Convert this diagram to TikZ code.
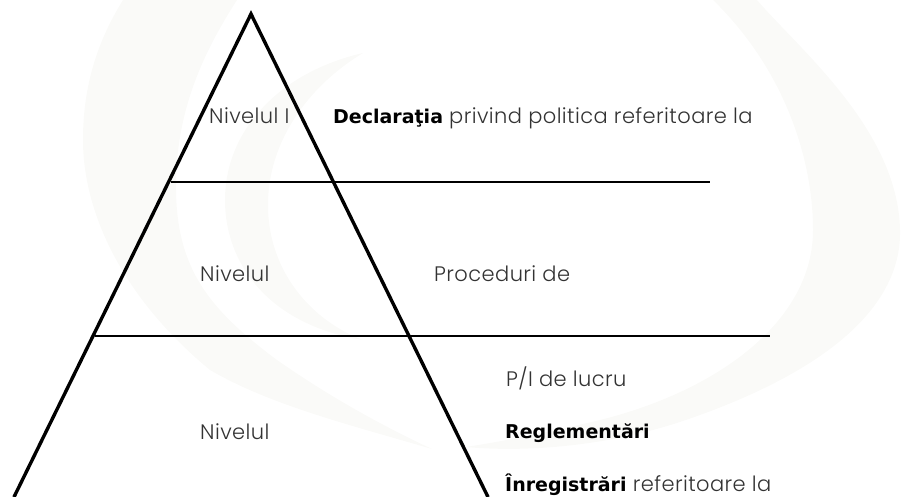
\documentclass[tikz,border=0pt]{standalone}
\usepackage{fontspec}
\setmainfont{Poppins}[UprightFont=* Light,LetterSpace=2]
\newfontfamily\boldf{DejaVu Sans Bold}
\definecolor{wm}{HTML}{FAFAF8}
\definecolor{txt}{HTML}{333333}
\tikzset{
  lab/.style={anchor=base west,inner sep=0pt,font=\fontsize{21}{24}\selectfont,text=txt},
  edgeline/.style={draw=black,line width=3.4pt},
  levelline/.style={draw=black,line width=2pt},
  wmark/.style={fill=wm,draw=none}
}
\newcommand{\bld}[1]{{\boldf\fontsize{19}{22}\selectfont\textcolor{black}{#1}}}
\begin{document}
\begin{tikzpicture}[x=1pt,y=-1pt]
\useasboundingbox (0,0) rectangle (916,497);
% watermark
\fill[wmark] (123,0) .. controls (95,45) and (83,90) .. (83,140)
  .. controls (83,215) and (125,300) .. (210,370)
  .. controls (270,405) and (350,425) .. (432,449)
  .. controls (370,420) and (320,390) .. (277,360)
  .. controls (210,310) and (177,270) .. (176,190)
  .. controls (175,110) and (205,50) .. (237,0) -- cycle;
\fill[wmark] (363,53) .. controls (280,72) and (225,130) .. (225,200)
  .. controls (225,265) and (270,325) .. (363,340)
  .. controls (310,320) and (268,270) .. (268,205)
  .. controls (268,140) and (310,85) .. (363,53) -- cycle;
\fill[wmark] (713,0) .. controls (785,70) and (813,160) .. (813,230)
  .. controls (813,320) and (720,390) .. (600,420)
  .. controls (550,432) and (510,440) .. (466,447)
  .. controls (520,452) and (600,448) .. (680,422)
  .. controls (820,375) and (902,310) .. (900,230)
  .. controls (898,130) and (800,50) .. (757,0) -- cycle;
% pyramid
\coordinate (apex) at (251,14);
\coordinate (bl) at (14,497);
\coordinate (br) at (488,497);
\coordinate (a1) at (171,182);
\coordinate (a2) at (710,182);
\coordinate (b1) at (95,335.5);
\coordinate (b2) at (770,335.5);
\draw[levelline] (a1) -- (a2);
\draw[levelline] (b1) -- (b2);
\draw[edgeline,line join=miter] (bl) -- (apex) -- (br);
% labels
\node[lab] (n1) at (209,124) {Nivelul I};
\node[lab] (d1) at (333,124) {\bld{Declaraţia} privind politica referitoare la};
\node[lab] (n2) at (200,281) {Nivelul};
\node[lab] (p2) at (434,281) {Proceduri de};
\node[lab] (n3) at (200,439) {Nivelul};
\node[lab] (p3) at (506,386) {P/I de lucru};
\node[lab] (r3) at (505,438) {\bld{Reglementări}};
\node[lab] (i3) at (505,491) {\bld{Înregistrări} referitoare la};
\end{tikzpicture}
\end{document}
